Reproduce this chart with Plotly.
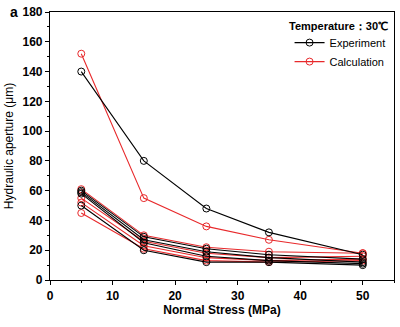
import plotly.graph_objects as go

# Normal stress levels (MPa)
stress = [5, 15, 25, 35, 50]

# Hydraulic aperture (um), measured
experiment = [
    [140, 80, 48, 32, 17],
    [60, 29, 21, 17, 14],
    [59, 27, 19, 15, 12],
    [58, 25, 16, 13, 11],
    [50, 20, 12, 12, 10],
]

# Hydraulic aperture (um), computed
calculation = [
    [152, 55, 36, 27, 18],
    [61, 30, 22, 19, 18],
    [55, 26, 18, 15, 16],
    [52, 23, 15, 13, 14],
    [45, 21, 13, 12, 13],
]

FONT = "Liberation Sans, Arial, sans-serif"

fig = go.Figure()


def add_series(data, name, color):
    for i, vals in enumerate(data):
        fig.add_trace(go.Scatter(
            x=stress, y=vals, mode="lines+markers", name=name,
            legendgroup=name, showlegend=(i == 0),
            line=dict(color=color, width=1.1),
            marker=dict(symbol="circle-open", size=7, color=color,
                        line=dict(width=1, color=color)),
        ))


add_series(calculation, "Calculation", "#e8292b")
add_series(experiment, "Experiment", "#000000")

axis_common = dict(
    showgrid=False, zeroline=False, showline=True, linecolor="black",
    linewidth=1.2, mirror=True, ticks="outside", ticklen=4, tickwidth=1,
    tickcolor="black",
    tickfont=dict(family=FONT, size=12, color="black", weight="bold"),
    minor=dict(ticks="outside", ticklen=2, tickcolor="black"),
)

fig.update_xaxes(range=[0, 55], tick0=0, dtick=10,
                 minor_dtick=5,
                 title=dict(text="Normal Stress (MPa)", standoff=4,
                            font=dict(family=FONT, size=12, color="black",
                                      weight=600)),
                 **axis_common)
fig.update_yaxes(range=[0, 180], tick0=0, dtick=20,
                 minor_dtick=10,
                 title=dict(text="Hydraulic aperture (μm)", standoff=6,
                            font=dict(family=FONT, size=12, color="black")),
                 **axis_common)

fig.add_annotation(x=1, y=1, xref="paper", yref="paper", xanchor="right",
                   yanchor="top", xshift=-4, yshift=-6, showarrow=False,
                   text="<b>Temperature：30℃</b>",
                   font=dict(family=FONT, size=11, color="black"))
fig.add_annotation(x=0, y=1, xref="paper", yref="paper", xanchor="right",
                   yanchor="middle", xshift=-30, showarrow=False,
                   text="<b>a</b>",
                   font=dict(family=FONT, size=14, color="black"))

fig.update_layout(
    width=400, height=327,
    margin=dict(l=50, r=5, t=10, b=47),
    plot_bgcolor="white", paper_bgcolor="white",
    legend=dict(x=0.99, y=0.94, xanchor="right", yanchor="top",
                traceorder="reversed", bgcolor="rgba(0,0,0,0)",
                font=dict(family=FONT, size=11, color="black"),
                itemwidth=30, tracegroupgap=0),
)

fig.write_html("out.html")
